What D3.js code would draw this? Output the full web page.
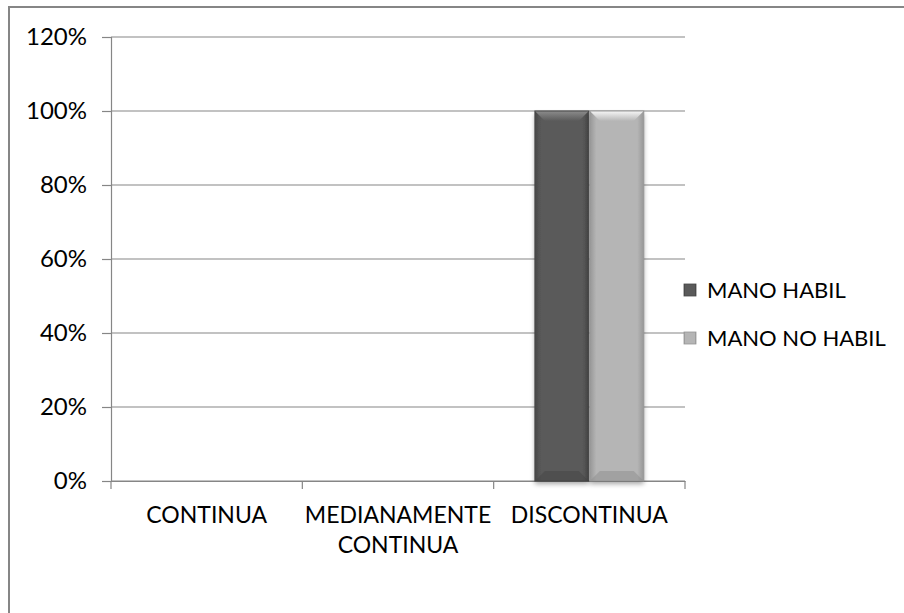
<!DOCTYPE html>
<html lang="es">
<head>
<meta charset="utf-8">
<title>Chart</title>
<script src="https://cdnjs.cloudflare.com/ajax/libs/d3/7.8.5/d3.min.js"></script>
<style>
  body { margin: 0; background: #fff; }
  svg text { font-family: Lato, "Open Sans", sans-serif; fill: #000; }
</style>
</head>
<body>
<div id="chart"></div>
<script>
const categories = ["CONTINUA", "MEDIANAMENTE CONTINUA", "DISCONTINUA"];
const seriesNames = ["MANO HABIL", "MANO NO HABIL"];
const manoHabil = [0, 0, 1];
const manoNoHabil = [0, 0, 1];
const yTicks = [0, 0.2, 0.4, 0.6, 0.8, 1.0, 1.2];

const W = 904, H = 613;
const plot = { left: 111, right: 685, top: 37, bottom: 481 };

const svg = d3.select("#chart").append("svg")
  .attr("width", W).attr("height", H);

// outer frame
svg.append("rect")
  .attr("x", 9).attr("y", 7)
  .attr("width", W + 10).attr("height", H + 10)
  .attr("fill", "none").attr("stroke", "#868686").attr("stroke-width", 2);

const x = d3.scaleBand().domain(categories).range([plot.left, plot.right]);
const x1 = d3.scaleBand().domain(seriesNames).range([0, x.bandwidth()]).paddingOuter(0.75).paddingInner(0.02);
const y = d3.scaleLinear().domain([0, 1.2]).range([plot.bottom, plot.top]);

const defs = svg.append("defs");
const palettes = {
  "MANO HABIL": { edge: "#474747", mid: "#5a5a5a", top: "#8c8c8c", bottom: "#444" },
  "MANO NO HABIL": { edge: "#979797", mid: "#b5b5b5", top: "#f6f6f6", bottom: "#8e8e8e" }
};
seriesNames.forEach((s, i) => {
  const p = palettes[s];
  const g = defs.append("linearGradient").attr("id", "grad" + i)
    .attr("x1", "0").attr("x2", "1").attr("y1", "0").attr("y2", "0");
  g.append("stop").attr("offset", "0").attr("stop-color", p.edge);
  g.append("stop").attr("offset", "0.12").attr("stop-color", p.mid);
  g.append("stop").attr("offset", "0.88").attr("stop-color", p.mid);
  g.append("stop").attr("offset", "1").attr("stop-color", p.edge);
  const t = defs.append("linearGradient").attr("id", "top" + i)
    .attr("x1", "0").attr("x2", "0").attr("y1", "0").attr("y2", "1");
  t.append("stop").attr("offset", "0").attr("stop-color", p.top);
  t.append("stop").attr("offset", "1").attr("stop-color", p.mid);
});
const shadow = defs.append("filter").attr("id", "shadow")
  .attr("x", "-20%").attr("y", "-5%").attr("width", "140%").attr("height", "115%");
shadow.append("feGaussianBlur").attr("in", "SourceAlpha").attr("stdDeviation", 2.5);
shadow.append("feOffset").attr("dx", 0).attr("dy", 3).attr("result", "b");
shadow.append("feComponentTransfer").append("feFuncA").attr("type", "linear").attr("slope", 0.35);
const merge = shadow.append("feMerge");
merge.append("feMergeNode");
merge.append("feMergeNode").attr("in", "SourceGraphic");

// gridlines
svg.append("g").selectAll("line").data(yTicks).join("line")
  .attr("x1", plot.left).attr("x2", plot.right)
  .attr("y1", d => y(d)).attr("y2", d => y(d))
  .attr("stroke", "#868686").attr("stroke-width", 1.2);

// y axis
const yAxis = svg.append("g")
  .attr("transform", `translate(${plot.left},0)`)
  .call(d3.axisLeft(y).tickValues(yTicks).tickFormat(d3.format(".0%")).tickSize(9).tickPadding(15));
yAxis.select(".domain").attr("stroke", "#868686").attr("stroke-width", 1.2);
yAxis.selectAll(".tick line").attr("stroke", "#868686").attr("stroke-width", 1.2);
yAxis.selectAll(".tick text").attr("font-size", 24).attr("fill", "#000")
  .style("font-family", "Lato, 'Open Sans', sans-serif");

// x axis
const xAxis = svg.append("g")
  .attr("transform", `translate(0,${plot.bottom})`)
  .call(d3.axisBottom(x).tickSize(0).tickFormat(""));
xAxis.select(".domain").attr("stroke", "#868686").attr("stroke-width", 1.2);
xAxis.selectAll(".tick").remove();
const edges = categories.map(c => x(c)).concat([x(categories[categories.length - 1]) + x.bandwidth()]);
xAxis.selectAll("line.sep").data(edges).join("line").attr("class", "sep")
  .attr("x1", d => d).attr("x2", d => d).attr("y1", 0).attr("y2", 8)
  .attr("stroke", "#868686").attr("stroke-width", 1.2);

// category labels
const labelLines = { "MEDIANAMENTE CONTINUA": ["MEDIANAMENTE", "CONTINUA"] };
svg.append("g").selectAll("text").data(categories).join("text")
  .attr("x", d => x(d) + x.bandwidth() / 2)
  .attr("y", 523)
  .attr("text-anchor", "middle")
  .attr("font-size", 23)
  .each(function(d) {
    const lines = labelLines[d] || [d];
    d3.select(this).selectAll("tspan").data(lines).join("tspan")
      .attr("x", x(d) + x.bandwidth() / 2)
      .attr("dy", (l, i) => i === 0 ? 0 : 30)
      .text(l => l);
  });

// bars
const rows = categories.map((c, i) => ({ cat: c, values: [manoHabil[i], manoNoHabil[i]] }));
const barG = svg.append("g");
rows.forEach(r => {
  r.values.forEach((v, si) => {
    if (!v) return;
    const s = seriesNames[si];
    const bx = x(r.cat) + x1(s), bw = x1.bandwidth();
    const by = y(v), bh = y(0) - y(v);
    const p = palettes[s];
    const g = barG.append("g");
    g.append("rect").attr("x", bx).attr("y", by).attr("width", bw).attr("height", bh)
      .attr("fill", `url(#grad${si})`).attr("filter", "url(#shadow)");
    const bev = 10;
    g.append("path")
      .attr("d", `M${bx},${by}L${bx + bw},${by}L${bx + bw - bev},${by + bev}L${bx + bev},${by + bev}Z`)
      .attr("fill", `url(#top${si})`);
    g.append("path")
      .attr("d", `M${bx},${by + bh}L${bx + bw},${by + bh}L${bx + bw - bev},${by + bh - bev}L${bx + bev},${by + bh - bev}Z`)
      .attr("fill", p.bottom).attr("opacity", 0.5);
    g.append("rect").attr("x", bx).attr("y", by).attr("width", bw).attr("height", bh)
      .attr("fill", "none").attr("stroke", p.edge).attr("stroke-width", 1);
  });
});

// legend
const legend = svg.append("g").selectAll("g").data(seriesNames).join("g")
  .attr("transform", (d, i) => `translate(684,${290 + i * 48})`);
legend.append("rect").attr("x", 0).attr("y", -6).attr("width", 12).attr("height", 12)
  .attr("fill", (d, i) => `url(#grad${i})`)
  .attr("stroke", d => palettes[d].edge).attr("stroke-width", 0.8);
legend.append("text").attr("x", 23).attr("y", 0).attr("dy", "0.36em")
  .attr("font-size", 22).text(d => d);
</script>
</body>
</html>
